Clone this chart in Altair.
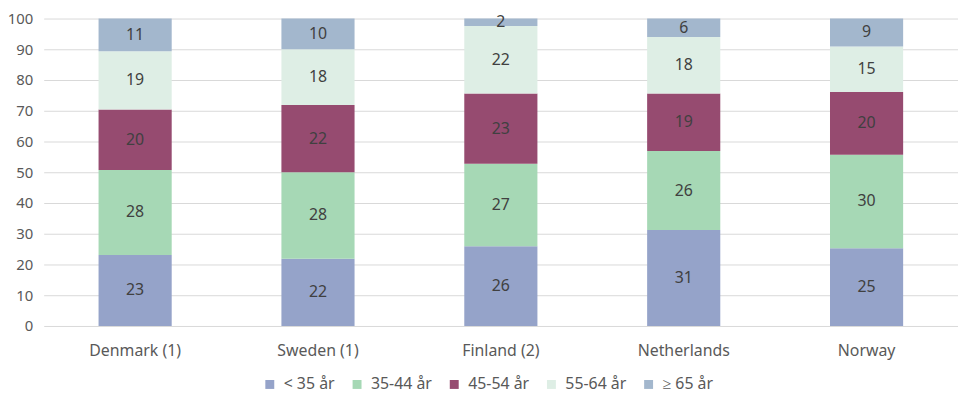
import altair as alt
import pandas as pd

countries = ["Denmark (1)", "Sweden (1)", "Finland (2)", "Netherlands", "Norway"]
groups = ["< 35 år", "35-44 år", "45-54 år", "55-64 år", "≥ 65 år"]
colors = ["#95A3C9", "#A6D8B5", "#964B70", "#DEEEE5", "#A3B7CD"]
y_ticks = [0, 10, 20, 30, 40, 50, 60, 70, 80, 90, 100]

under35 = [23.1, 21.9, 25.9, 31.2, 25.3]
age35_44 = [27.6, 28.1, 26.9, 25.7, 30.4]
age45_54 = [19.7, 21.9, 22.8, 18.7, 20.4]
age55_64 = [19.0, 18.1, 22.0, 18.4, 14.8]
over65 = [10.6, 10.0, 2.4, 6.0, 9.1]

series = [under35, age35_44, age45_54, age55_64, over65]
rows = []
for gi, (g, vals) in enumerate(zip(groups, series)):
    for c, v in zip(countries, vals):
        rows.append({"country": c, "group": g, "order": gi, "value": v})
df = pd.DataFrame(rows)

FONT = "Noto Sans"

base = alt.Chart(df).transform_stack(
    stack="value", groupby=["country"], as_=["y0", "y1"],
    sort=[alt.SortField("order", order="ascending")]
).transform_calculate(mid="(datum.y0 + datum.y1) / 2")

x_axis = alt.Axis(labelAngle=0, domain=False, ticks=False, labelPadding=17,
                  labelFontSize=16, labelColor="#595959", labelFont=FONT)
x_scale = alt.Scale(paddingInner=0.6, paddingOuter=0.3)
y_axis = alt.Axis(values=y_ticks, tickCount=len(y_ticks), domain=False, ticks=False,
                  labelOverlap=False, labelPadding=11, labelFontSize=15,
                  labelColor="#595959", labelFont=FONT,
                  gridColor="#D9D9D9", gridWidth=1)
y_scale = alt.Scale(domain=[0, 100], nice=False)

bars = base.mark_bar().encode(
    x=alt.X("country:N", sort=countries, title=None, scale=x_scale, axis=x_axis),
    y=alt.Y("y0:Q", title=None, scale=y_scale, axis=y_axis),
    y2="y1:Q",
    color=alt.Color("group:N", sort=groups,
                    scale=alt.Scale(domain=groups, range=colors),
                    legend=alt.Legend(title=None, orient="none", direction="horizontal",
                                      legendX=220, legendY=361,
                                      symbolType="square", symbolSize=81,
                                      symbolStrokeWidth=0, labelFontSize=16,
                                      labelColor="#595959", labelFont=FONT,
                                      labelOffset=6, columnPadding=14)),
)

labels = base.mark_text(fontSize=16, color="#404040", font=FONT).encode(
    x=alt.X("country:N", sort=countries, title=None, scale=x_scale, axis=x_axis),
    y=alt.Y("mid:Q", title=None, scale=y_scale, axis=y_axis),
    text=alt.Text("value:Q", format=".0f"),
)

chart = (bars + labels).properties(
    width=922, height=310,
    autosize=alt.AutoSizeParams(type="none"),
    padding={"left": 36, "top": 9, "right": 0, "bottom": 70},
).configure_view(stroke=None)

chart.save("out.html", embed_options={"renderer": "svg", "actions": False})
